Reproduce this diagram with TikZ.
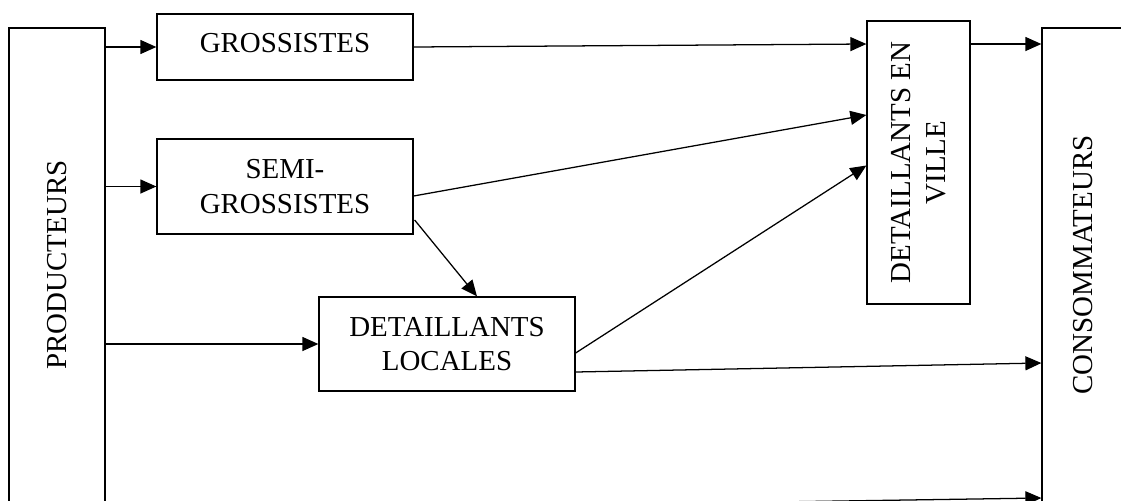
\documentclass[tikz,border=0pt]{standalone}
\usepackage{fontspec}
\setmainfont{Liberation Serif}
\usetikzlibrary{arrows.meta,calc}
\begin{document}
\begin{tikzpicture}[x=0.75pt,y=-0.75pt,
  box/.style={draw=black,line width=0.95pt,inner sep=0pt,align=center,
    font=\fontsize{21.7}{26}\selectfont},
  arr/.style={draw=black,line width=0.95pt,-{Triangle[length=12pt,width=10.5pt]}}]
\useasboundingbox (0,0) rectangle (1121,500);
\clip (0,0) rectangle (1121,500);
\fill[white] (0,0) rectangle (1121,500);
% nodes
\node[box,rotate=90,minimum width=474*0.75pt,minimum height=96*0.75pt] (prod) at (57,265) {PRODUCTEURS};
\node[box,rotate=90,minimum width=474*0.75pt,minimum height=82*0.75pt] (cons) at (1083,265) {CONSOMMATEURS};
\node[box,minimum width=256*0.75pt,minimum height=66*0.75pt,text depth=6pt] (gros) at (285,47) {GROSSISTES};
\node[box,minimum width=256*0.75pt,minimum height=95*0.75pt] (semi) at (285,186.5) {SEMI-\\GROSSISTES};
\node[box,minimum width=256*0.75pt,minimum height=94*0.75pt] (dloc) at (447,344) {DETAILLANTS\\LOCALES};
\node[box,rotate=90,minimum width=283*0.75pt,minimum height=103*0.75pt] (dev) at (918.5,162.5) {DETAILLANTS EN\\VILLE};
% connectors
\draw[arr] (prod.south |- gros.west) -- (gros.west);
\draw[arr] (prod.south |- semi.west) -- (semi.west);
\draw[arr] (prod.south |- dloc.west) -- (dloc.west);
\draw[arr] ($(prod.south)+(0,247)$) -- ($(cons.north)+(0,233)$);
\draw[arr] (gros.east) -- ($(dev.north)+(0,-118.5)$);
\draw[arr] ($(semi.east)+(0,9.5)$) -- ($(dev.north)+(0,-47.5)$);
\draw[arr] ($(semi.east)+(1,33.5)$) -- ($(dloc.north)+(30,0)$);
\draw[arr] ($(dloc.east)+(0,9)$) -- ($(dev.north)+(0,3)$);
\draw[arr] ($(dloc.east)+(0,28)$) -- ($(cons.north)+(0,98)$);
\draw[arr] ($(dev.south)+(0,-118.5)$) -- ($(cons.north)+(0,-221)$);
\end{tikzpicture}
\end{document}
